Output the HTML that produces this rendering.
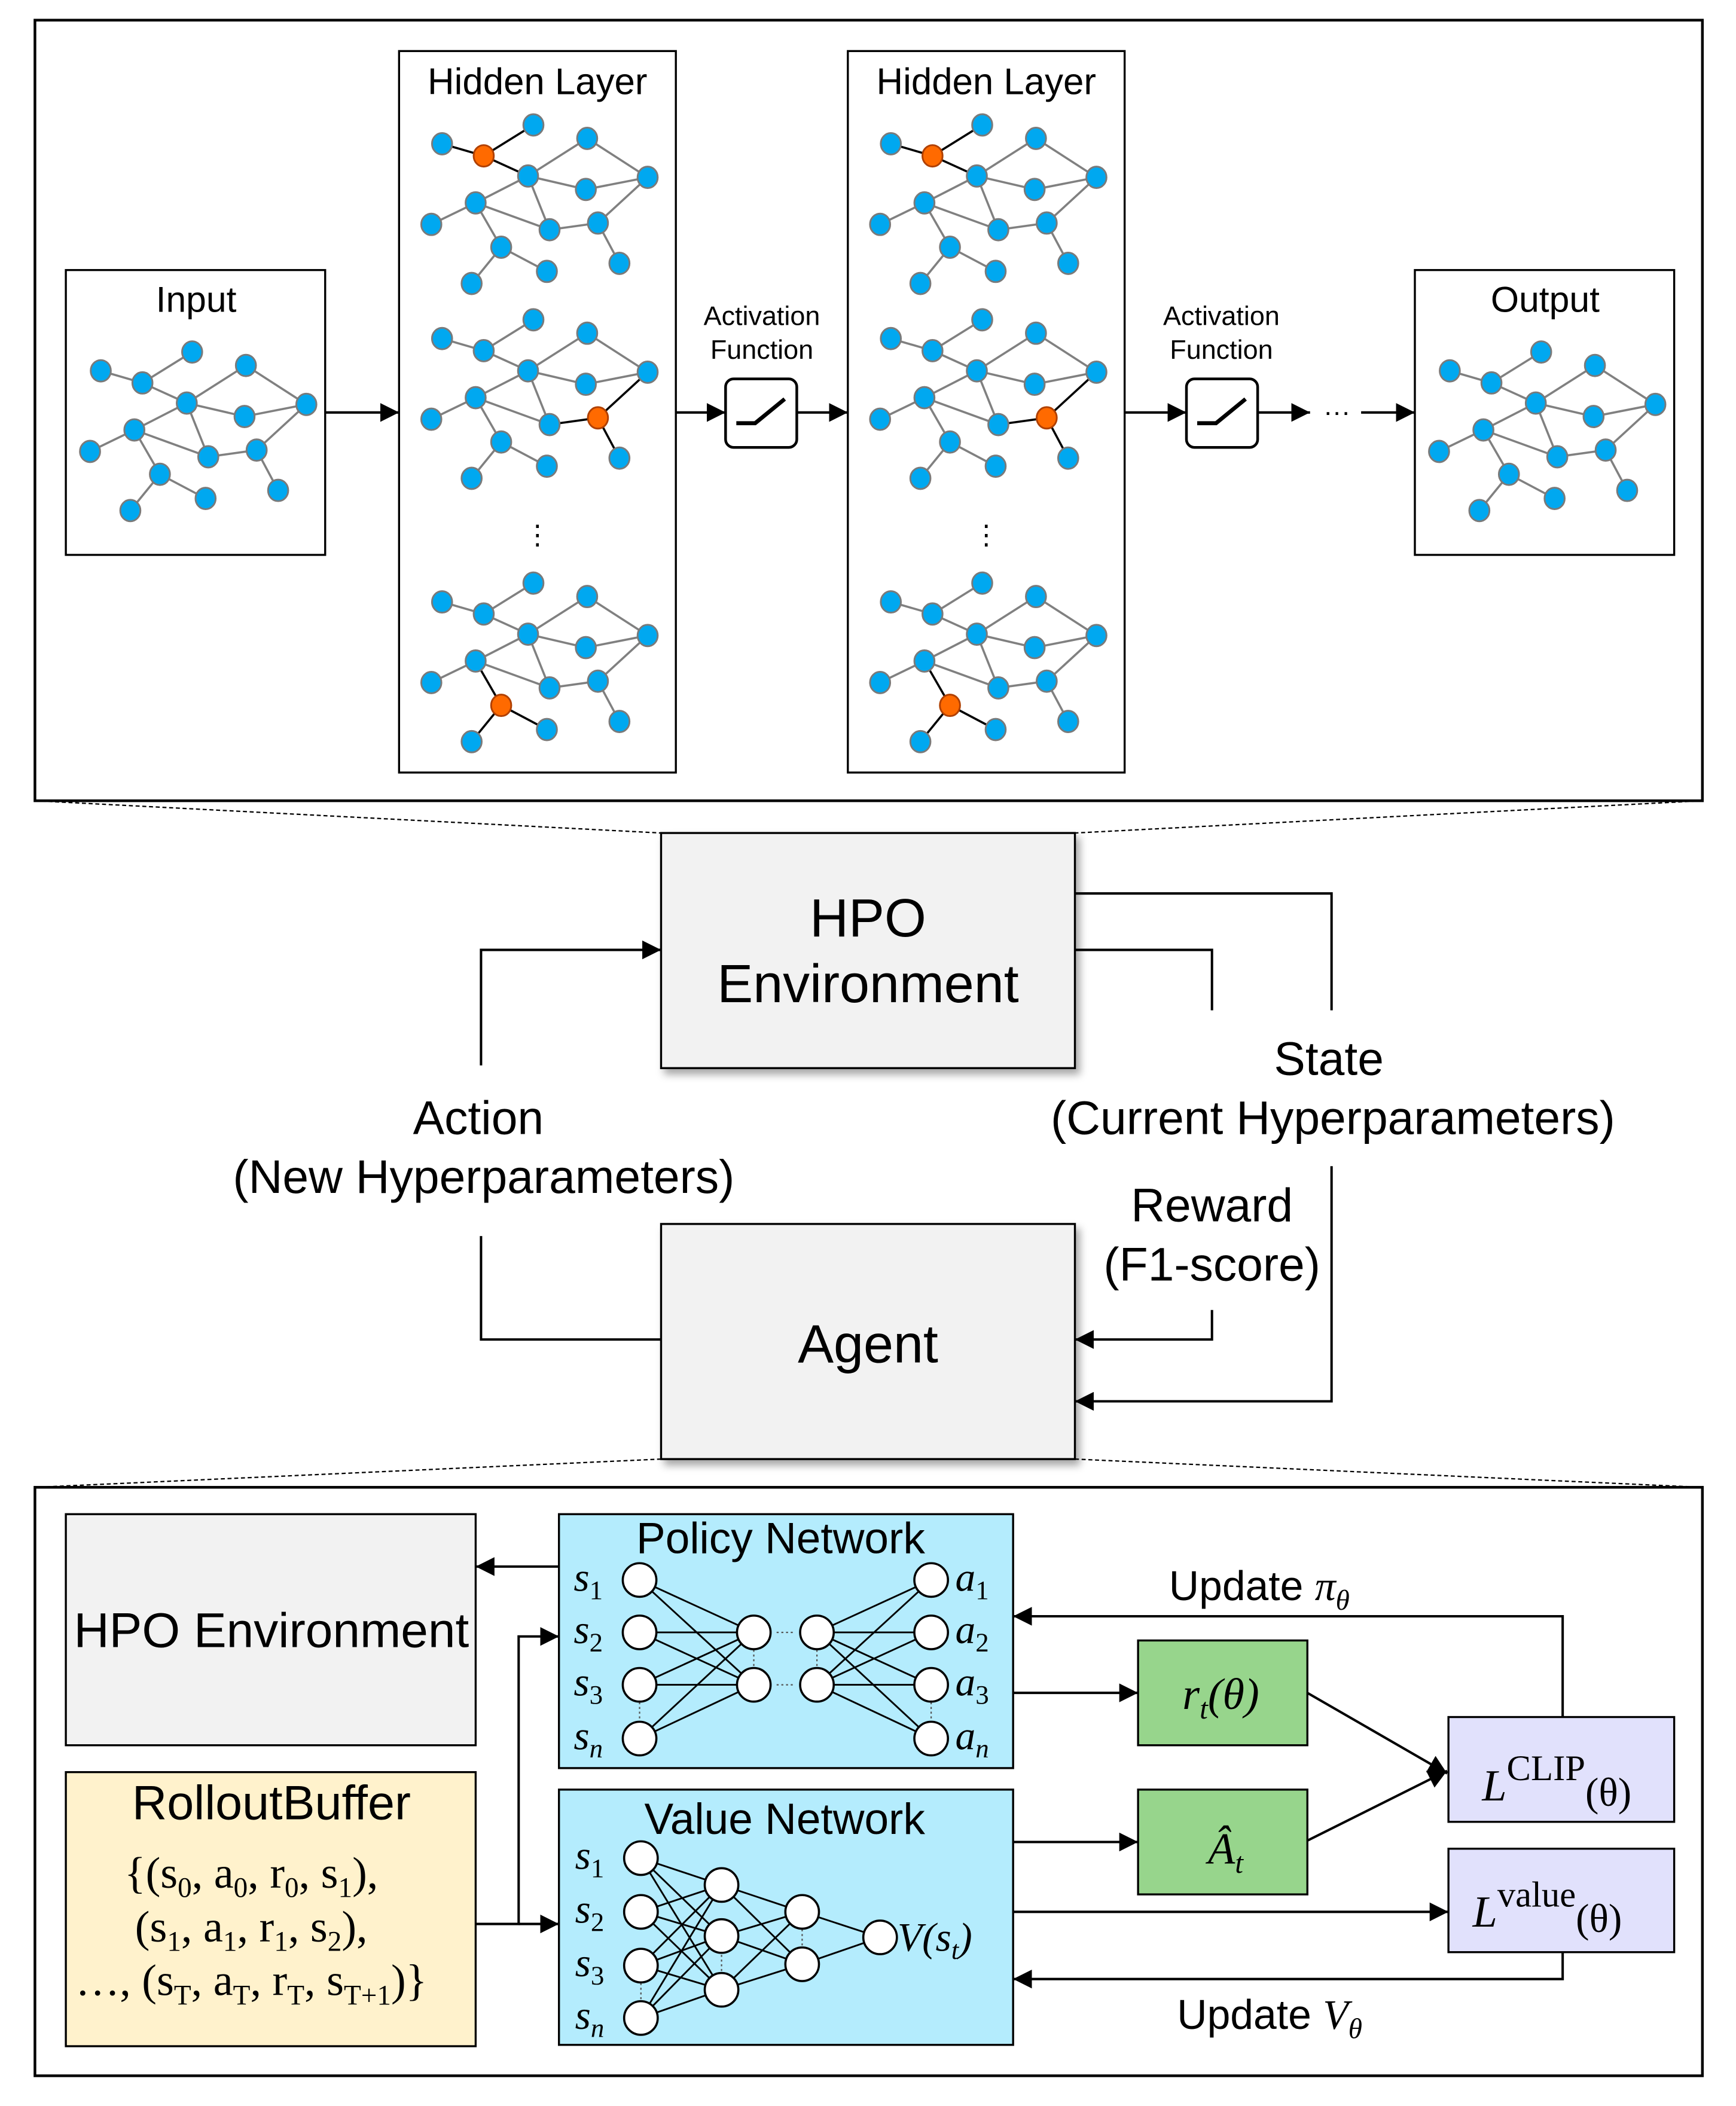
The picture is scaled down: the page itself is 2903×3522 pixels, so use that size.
<!DOCTYPE html>
<html><head><meta charset="utf-8"><style>
html,body{margin:0;padding:0;background:#fff}
svg{display:block}
text{font-family:"Liberation Sans",sans-serif;fill:#000}
.m{font-family:"Liberation Serif",serif;font-style:italic}
.r{font-family:"Liberation Serif",serif}
</style></head><body>
<svg id="s" width="2903" height="3522" viewBox="0 0 1292 1567.5" xmlns="http://www.w3.org/2000/svg">
<defs>
<marker id="b" viewBox="0 0 10 10" refX="10" refY="5" markerWidth="14" markerHeight="14" orient="auto" markerUnits="userSpaceOnUse"><path d="M0,0L10,5L0,10z" fill="#000"/></marker>
<filter id="sh" x="-10%" y="-10%" width="130%" height="130%"><feDropShadow dx="3" dy="4" stdDeviation="3" flood-color="#000" flood-opacity="0.35"/></filter>
</defs>
<rect width="1292" height="1567.5" fill="#fff"/>
<rect x="26" y="15" width="1241" height="581" fill="none" stroke="#000" stroke-width="2"/>
<rect x="49" y="201" width="193" height="212" fill="#fff" stroke="#000" stroke-width="1.5"/>
<rect x="297" y="38" width="206" height="537" fill="#fff" stroke="#000" stroke-width="1.5"/>
<rect x="631" y="38" width="206" height="537" fill="#fff" stroke="#000" stroke-width="1.5"/>
<rect x="1053" y="201" width="193" height="212" fill="#fff" stroke="#000" stroke-width="1.5"/>
<text x="146" y="232" font-size="27" text-anchor="middle">Input</text>
<text x="400" y="70" font-size="27.5" text-anchor="middle">Hidden Layer</text>
<text x="734" y="70" font-size="27.5" text-anchor="middle">Hidden Layer</text>
<text x="1150" y="232" font-size="27" text-anchor="middle">Output</text>
<text x="567" y="242" font-size="20" text-anchor="middle">Activation</text>
<text x="567" y="267" font-size="20" text-anchor="middle">Function</text>
<text x="909" y="242" font-size="20" text-anchor="middle">Activation</text>
<text x="909" y="267" font-size="20" text-anchor="middle">Function</text>
<rect x="540" y="282" width="53" height="51" rx="6" fill="#fff" stroke="#000" stroke-width="2"/>
<rect x="883" y="282" width="53" height="51" rx="6" fill="#fff" stroke="#000" stroke-width="2"/>
<path d="M548,315h14l22,-18" fill="none" stroke="#000" stroke-width="3"/>
<path d="M891,315h14l22,-18" fill="none" stroke="#000" stroke-width="3"/>
<g stroke="#000" stroke-width="1.8" marker-end="url(#b)">
<line x1="242" y1="307" x2="297" y2="307"/><line x1="503" y1="307" x2="540" y2="307"/>
<line x1="593" y1="307" x2="631" y2="307"/><line x1="837" y1="307" x2="883" y2="307"/>
<line x1="936" y1="307" x2="975" y2="307"/><line x1="1013" y1="307" x2="1053" y2="307"/>
</g>
<text x="995" y="313" font-size="20" text-anchor="middle">···</text>
<text x="400" y="405" font-size="20" text-anchor="middle">⋮</text>
<text x="734" y="405" font-size="20" text-anchor="middle">⋮</text>
<g id="graphs"></g>
<g stroke="#000" stroke-width="1" stroke-dasharray="3,2">
<line x1="26" y1="596" x2="492" y2="620"/><line x1="1267" y1="596" x2="800" y2="620"/>
<line x1="492" y1="1086" x2="26" y2="1107"/><line x1="800" y1="1086" x2="1267" y2="1107"/>
</g>
<rect x="492" y="620" width="308" height="175" fill="#f2f2f2" stroke="#000" stroke-width="1.5" filter="url(#sh)"/>
<rect x="492" y="911" width="308" height="175" fill="#f2f2f2" stroke="#000" stroke-width="1.5" filter="url(#sh)"/>
<text x="646" y="697" font-size="40" text-anchor="middle">HPO</text>
<text x="646" y="746" font-size="40" text-anchor="middle">Environment</text>
<text x="646" y="1014" font-size="40" text-anchor="middle">Agent</text>
<g fill="none" stroke="#000" stroke-width="1.8">
<polyline points="492,997 358,997 358,920"/>
<polyline points="358,793 358,707 492,707" marker-end="url(#b)"/>
<polyline points="800,665 991,665 991,752"/>
<polyline points="991,868 991,1043 800,1043" marker-end="url(#b)"/>
<polyline points="800,707 902,707 902,752"/>
<polyline points="902,975 902,997 800,997" marker-end="url(#b)"/>
</g>
<text x="356" y="844" font-size="35" text-anchor="middle">Action</text>
<text x="360" y="888" font-size="35" text-anchor="middle">(New Hyperparameters)</text>
<text x="989" y="800" font-size="35" text-anchor="middle">State</text>
<text x="992" y="844" font-size="35" text-anchor="middle">(Current Hyperparameters)</text>
<text x="902" y="909" font-size="35" text-anchor="middle">Reward</text>
<text x="902" y="953" font-size="35" text-anchor="middle">(F1-score)</text>
<rect x="26" y="1107" width="1241" height="438" fill="none" stroke="#000" stroke-width="2"/>
<rect x="49" y="1127" width="305" height="172" fill="#f2f2f2" stroke="#000" stroke-width="1.5"/>
<text x="202" y="1226" font-size="36.5" text-anchor="middle">HPO Environment</text>
<rect x="49" y="1319" width="305" height="204" fill="#fff2cc" stroke="#000" stroke-width="1.5"/>
<text x="202" y="1354" font-size="36" text-anchor="middle">RolloutBuffer</text>
<text class="r" x="187" y="1405" font-size="33" text-anchor="middle">{(s<tspan font-size="21" dy="7">0</tspan><tspan dy="-7">, a</tspan><tspan font-size="21" dy="7">0</tspan><tspan dy="-7">, r</tspan><tspan font-size="21" dy="7">0</tspan><tspan dy="-7">, s</tspan><tspan font-size="21" dy="7">1</tspan><tspan dy="-7">),</tspan></text>
<text class="r" x="187" y="1445" font-size="33" text-anchor="middle">(s<tspan font-size="21" dy="7">1</tspan><tspan dy="-7">, a</tspan><tspan font-size="21" dy="7">1</tspan><tspan dy="-7">, r</tspan><tspan font-size="21" dy="7">1</tspan><tspan dy="-7">, s</tspan><tspan font-size="21" dy="7">2</tspan><tspan dy="-7">),</tspan></text>
<text class="r" x="187" y="1485" font-size="33" text-anchor="middle">…, (s<tspan font-size="21" dy="7">T</tspan><tspan dy="-7">, a</tspan><tspan font-size="21" dy="7">T</tspan><tspan dy="-7">, r</tspan><tspan font-size="21" dy="7">T</tspan><tspan dy="-7">, s</tspan><tspan font-size="21" dy="7">T+1</tspan><tspan dy="-7">)}</tspan></text>
<rect x="416" y="1127" width="338" height="189" fill="#b4ecfd" stroke="#000" stroke-width="1.5"/>
<rect x="416" y="1332" width="338" height="190" fill="#b4ecfd" stroke="#000" stroke-width="1.5"/>
<text x="581" y="1156" font-size="32.5" text-anchor="middle">Policy Network</text>
<text x="584" y="1365" font-size="32.5" text-anchor="middle">Value Network</text>
<g id="nets"></g>
<g font-size="30">
<text class="m" x="427" y="1184">s<tspan class="r" font-style="normal" font-size="20" dy="6">1</tspan></text>
<text class="m" x="427" y="1223">s<tspan class="r" font-style="normal" font-size="20" dy="6">2</tspan></text>
<text class="m" x="427" y="1262">s<tspan class="r" font-style="normal" font-size="20" dy="6">3</tspan></text>
<text class="m" x="427" y="1302">s<tspan font-size="20" dy="6">n</tspan></text>
<text class="m" x="711" y="1184">a<tspan class="r" font-style="normal" font-size="20" dy="6">1</tspan></text>
<text class="m" x="711" y="1223">a<tspan class="r" font-style="normal" font-size="20" dy="6">2</tspan></text>
<text class="m" x="711" y="1262">a<tspan class="r" font-style="normal" font-size="20" dy="6">3</tspan></text>
<text class="m" x="711" y="1302">a<tspan font-size="20" dy="6">n</tspan></text>
<text class="m" x="428" y="1391">s<tspan class="r" font-style="normal" font-size="20" dy="6">1</tspan></text>
<text class="m" x="428" y="1431">s<tspan class="r" font-style="normal" font-size="20" dy="6">2</tspan></text>
<text class="m" x="428" y="1471">s<tspan class="r" font-style="normal" font-size="20" dy="6">3</tspan></text>
<text class="m" x="428" y="1510">s<tspan font-size="20" dy="6">n</tspan></text>
<text class="m" x="668" y="1452">V(s<tspan font-size="20" dy="6">t</tspan><tspan dy="-6">)</tspan></text>
</g>
<rect x="847" y="1221" width="126" height="78" fill="#97d58c" stroke="#000" stroke-width="1.5"/>
<rect x="847" y="1332" width="126" height="78" fill="#97d58c" stroke="#000" stroke-width="1.5"/>
<rect x="1078" y="1278" width="168" height="78" fill="#e1e1fc" stroke="#000" stroke-width="1.5"/>
<rect x="1078" y="1376" width="168" height="77" fill="#e1e1fc" stroke="#000" stroke-width="1.5"/>
<text class="m" x="880" y="1272" font-size="33">r<tspan font-size="22" dy="7">t</tspan><tspan dy="-7">(θ)</tspan></text>
<text class="m" x="899" y="1387" font-size="33">Â<tspan font-size="22" dy="7">t</tspan></text>
<text class="m" x="1103" y="1340" font-size="33">L<tspan class="r" font-style="normal" font-size="27" dy="-15">CLIP</tspan><tspan class="r" font-style="normal" font-size="30" dy="19">(θ)</tspan></text>
<text class="m" x="1096" y="1434" font-size="33">L<tspan class="r" font-style="normal" font-size="27" dy="-15">value</tspan><tspan class="r" font-style="normal" font-size="30" dy="19">(θ)</tspan></text>
<text x="870" y="1191" font-size="31">Update <tspan class="m">π</tspan><tspan class="m" font-size="21" dy="7">θ</tspan></text>
<text x="876" y="1510" font-size="31">Update <tspan class="m">V</tspan><tspan class="m" font-size="21" dy="7">θ</tspan></text>
<g fill="none" stroke="#000" stroke-width="1.8">
<line x1="416" y1="1166" x2="354" y2="1166" marker-end="url(#b)"/>
<polyline points="354,1432 386,1432 386,1218 416,1218" marker-end="url(#b)"/>
<line x1="386" y1="1432" x2="416" y2="1432" marker-end="url(#b)"/>
<line x1="754" y1="1260" x2="847" y2="1260" marker-end="url(#b)"/>
<line x1="754" y1="1371" x2="847" y2="1371" marker-end="url(#b)"/>
<line x1="973" y1="1260" x2="1077" y2="1320" marker-end="url(#b)"/>
<line x1="973" y1="1370" x2="1077" y2="1318" marker-end="url(#b)"/>
<line x1="754" y1="1423" x2="1078" y2="1423" marker-end="url(#b)"/>
<polyline points="1163,1278 1163,1203 754,1203" marker-end="url(#b)"/>
<polyline points="1163,1453 1163,1473 754,1473" marker-end="url(#b)"/>
</g>
</svg>
<script>
var NS="http://www.w3.org/2000/svg";
function el(p,t,a){var e=document.createElementNS(NS,t);for(var k in a)e.setAttribute(k,a[k]);p.appendChild(e);return e;}
var N=[[75,276],[106,285],[143,262],[183,272],[139,300],[182,310],[228,301],[100,320],[67,336],[155,340],[191,335],[119,353],[153,371],[97,380],[207,365]];
var E=[[0,1],[1,2],[1,4],[4,3],[3,6],[4,5],[5,6],[4,7],[7,8],[7,9],[4,9],[9,10],[10,6],[7,11],[11,13],[11,12],[10,14]];
var G=document.getElementById("graphs");
function graph(dx,dy,orange){
 var g=el(G,"g",{transform:"translate("+dx+","+dy+")"});
 E.forEach(function(e){var o=(orange>=0&&(e[0]==orange||e[1]==orange));
  el(g,"line",{x1:N[e[0]][0],y1:N[e[0]][1],x2:N[e[1]][0],y2:N[e[1]][1],stroke:o?"#000":"#808080","stroke-width":1.6});});
 N.forEach(function(n,i){el(g,"ellipse",{cx:n[0],cy:n[1],rx:7.5,ry:8,fill:i==orange?"#ff6a00":"#00a8f0",stroke:i==orange?"#b04000":"#7a7a7a","stroke-width":1.3});});
}
graph(0,0,-1);graph(1004,0,-1);
[0,334].forEach(function(x){graph(254+x,-169,1);graph(254+x,-24,10);graph(254+x,172,11);});
var T=document.getElementById("nets");
function L(a,b){el(T,"line",{x1:a[0],y1:a[1],x2:b[0],y2:b[1],stroke:"#000","stroke-width":1.3});}
function C(p){el(T,"circle",{cx:p[0],cy:p[1],r:12.5,fill:"#fff",stroke:"#000","stroke-width":1.6});}
function D(x,y1,y2){el(T,"line",{x1:x,y1:y1,x2:x,y2:y2,stroke:"#555","stroke-width":1,"stroke-dasharray":"1.5,2"});}
var pi=[1176,1215,1254,1294].map(function(y){return[476,y]}),h1=[[561,1215],[561,1254]],h2=[[608,1215],[608,1254]],po=[1176,1215,1254,1294].map(function(y){return[693,y]});
pi.forEach(function(a){h1.forEach(function(b){L(a,b)})});h2.forEach(function(a){po.forEach(function(b){L(a,b)})});
D(476,1267,1281);D(693,1267,1281);D(561,1228,1241);D(608,1228,1241);
el(T,"line",{x1:578,y1:1215,x2:592,y2:1215,stroke:"#555","stroke-dasharray":"1.5,2"});
el(T,"line",{x1:578,y1:1254,x2:592,y2:1254,stroke:"#555","stroke-dasharray":"1.5,2"});
pi.concat(h1,h2,po).forEach(C);
var vi=[1383,1423,1463,1502].map(function(y){return[477,y]}),v1=[[537,1403],[537,1441],[537,1481]],v2=[[597,1423],[597,1462]],vo=[655,1442];
vi.forEach(function(a){v1.forEach(function(b){L(a,b)})});v1.forEach(function(a){v2.forEach(function(b){L(a,b)})});v2.forEach(function(a){L(a,vo)});
D(477,1476,1489);D(537,1455,1467);D(597,1436,1449);
vi.concat(v1,v2,[vo]).forEach(C);
</script>
</body></html>
